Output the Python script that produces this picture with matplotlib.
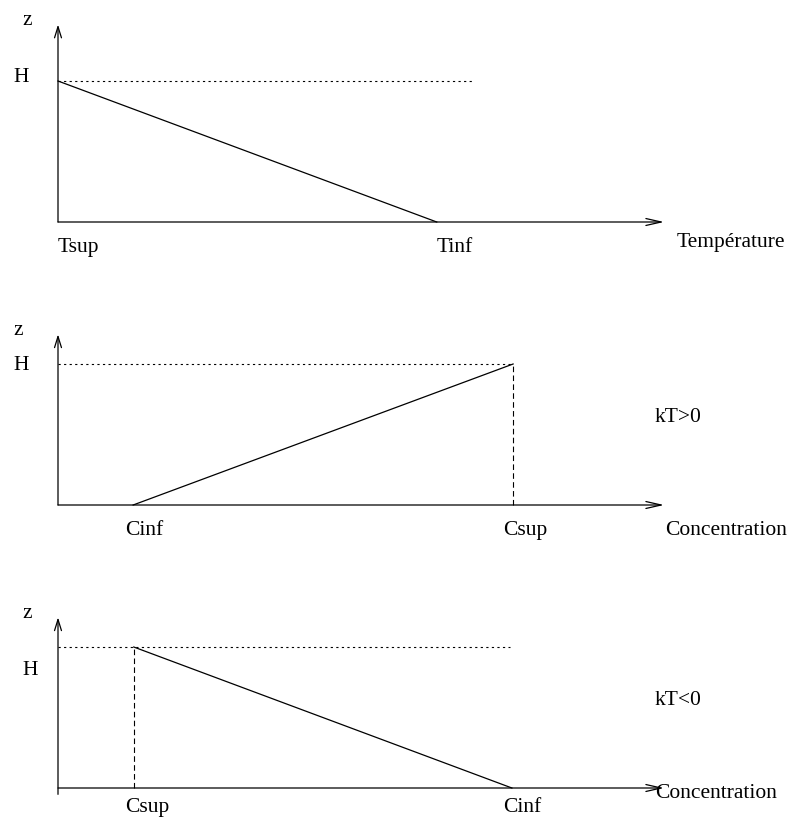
import matplotlib
matplotlib.use("Agg")
import matplotlib.pyplot as plt

plt.rcParams['font.family'] = ['Liberation Serif', 'DejaVu Serif']

# ---- data (x in axis units: axis length 10; z in units of H) ----
H = 1.0
p1_x_end, p1_z_end = 10.0, 1.40
p1_T = [0.0, 6.25]            # Tsup, Tinf
p1_z = [H, 0.0]
p1_Hline_end = 6.83
p1_ticklabels = ["Tsup", "Tinf"]
p1_xlabel = "Température"

p2_x_end, p2_z_end = 10.0, 1.21
p2_C = [1.24, 7.51]           # Cinf, Csup
p2_z = [0.0, H]
p2_ticklabels = ["Cinf", "Csup"]
p2_xlabel = "Concentration"
p2_note = "kT>0"

p3_x_end, p3_z_end = 10.0, 1.21
p3_C = [1.25, 7.49]           # Csup, Cinf
p3_z = [H, 0.0]
p3_Hline_end = 7.46
p3_ticklabels = ["Csup", "Cinf"]
p3_xlabel = "Concentration"
p3_note = "kT<0"

W, Hpx = 805, 819
fig = plt.figure(figsize=(W / 100, Hpx / 100), dpi=100)

SX, SY = 60.6, 141.0   # px per unit
FS = 15.5


def make_axes(ox, oy, top, bottom):
    ax = fig.add_axes([0, 1 - bottom / Hpx, 1, (bottom - top) / Hpx])
    ax.set_xlim(-ox / SX, (W - ox) / SX)
    ax.set_ylim((oy - bottom) / SY, (oy - top) / SY)
    ax.axis('off')
    return ax


def axes_arrows(ax, x_end, z_end, z_start=0.0):
    ax.annotate("", xy=(x_end, 0), xytext=(0, 0),
                arrowprops=dict(arrowstyle='->,head_length=1.1,head_width=0.25',
                                lw=0.9, color='black', shrinkA=0, shrinkB=0))
    ax.annotate("", xy=(0, z_end), xytext=(0, z_start),
                arrowprops=dict(arrowstyle='->,head_length=0.8,head_width=0.25',
                                lw=0.9, color='black', shrinkA=0, shrinkB=0))


dot = dict(color='black', lw=0.8, linestyle=(0, (2, 3)))
dash = dict(color='black', lw=0.8, linestyle=(0, (5, 3)))
solid = dict(color='black', lw=0.9)
tk = dict(fontsize=FS, va='baseline', ha='left', clip_on=False)

# ---- panel 1 ----
ax1 = make_axes(58, 222, 0, 280)
axes_arrows(ax1, p1_x_end, p1_z_end)
ax1.plot([0, p1_Hline_end], [H, H], **dot)
ax1.plot(p1_T, p1_z, **solid)
ax1.text(-0.594, 1.397, "z", **tk)
ax1.text(-0.743, 0.993, "H", **tk)
ax1.text(p1_T[0], -0.213, p1_ticklabels[0], **tk)
ax1.text(p1_T[1], -0.213, p1_ticklabels[1], **tk)
ax1.text(10.21, -0.177, p1_xlabel, **tk)

# ---- panel 2 ----
ax2 = make_axes(58, 505, 280, 560)
axes_arrows(ax2, p2_x_end, p2_z_end)
ax2.plot([0, p2_C[1]], [H, H], **dot)
ax2.plot(p2_C, p2_z, **solid)
ax2.plot([p2_C[1], p2_C[1]], [0, H], **dash)
ax2.text(-0.743, 1.206, "z", **tk)
ax2.text(-0.743, 0.957, "H", **tk)
ax2.text(p2_C[0] - 0.13, -0.213, p2_ticklabels[0], **tk)
ax2.text(p2_C[1] - 0.16, -0.213, p2_ticklabels[1], **tk)
ax2.text(10.02, -0.213, p2_xlabel, **tk)
ax2.text(9.85, 0.589, p2_note, **tk)

# ---- panel 3 ----
ax3 = make_axes(58, 788, 560, 819)
axes_arrows(ax3, p3_x_end, p3_z_end, z_start=-0.045)
ax3.plot([0, p3_Hline_end], [H, H], **dot)
ax3.plot(p3_C, p3_z, **solid)
ax3.plot([p3_C[0], p3_C[0]], [0, H], **dash)
ax3.text(-0.594, 1.206, "z", **tk)
ax3.text(-0.594, 0.80, "H", **tk)
ax3.text(p3_C[0] - 0.15, -0.17, p3_ticklabels[0], **tk)
ax3.text(p3_C[1] - 0.15, -0.17, p3_ticklabels[1], **tk)
ax3.text(9.85, -0.071, p3_xlabel, **tk)
ax3.text(9.85, 0.589, p3_note, **tk)

fig.savefig("out.png", dpi=100, facecolor='white')
